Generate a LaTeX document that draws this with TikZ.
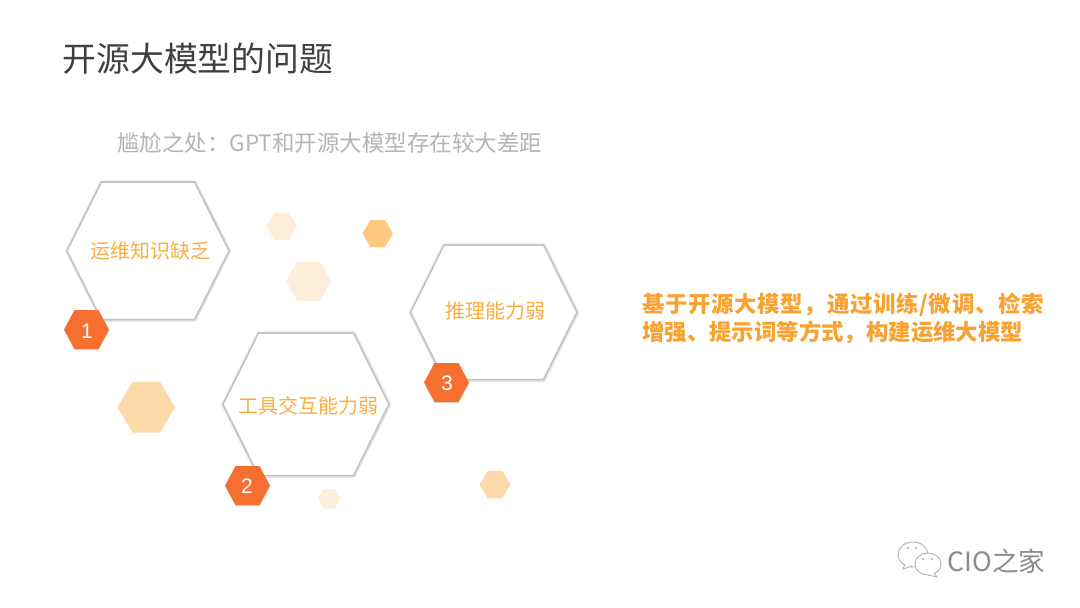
\documentclass[tikz,border=0pt]{standalone}
\usepackage{fontspec}
\setmainfont{Noto Sans CJK SC}
\newfontfamily\digitfont{Liberation Sans}
\definecolor{titlec}{HTML}{404040}
\definecolor{subc}{HTML}{B4B4B4}
\definecolor{labelc}{HTML}{FBAE40}
\definecolor{rightc}{HTML}{F9A22F}
\definecolor{badgec}{HTML}{F57030}
\definecolor{palec}{HTML}{FEEDD8}
\definecolor{midc}{HTML}{FCD9A8}
\definecolor{deepc}{HTML}{FEC97F}
\definecolor{markc}{HTML}{8C8C8C}
\tikzset{
  titletext/.style={anchor=west,inner sep=0pt,text=titlec,font=\fontsize{33.8}{40}\selectfont},
  subtext/.style={anchor=west,inner sep=0pt,text=subc,font=\fontsize{22.5}{28}\selectfont},
  hexlabel/.style={inner sep=0pt,text=labelc,font=\fontsize{20}{24}\selectfont},
  righttext/.style={anchor=north west,inner sep=0pt,align=left,text=rightc,font=\fontsize{22.4}{28}\selectfont\bfseries},
  badgetext/.style={inner sep=0pt,text=white,font=\digitfont\fontsize{21}{24}\selectfont},
  marktext/.style={anchor=west,inner sep=0pt,text=markc,font=\fontsize{26.6}{30}\selectfont},
  bigedge/.style={draw=black!24,line width=1.5pt,line join=round},
  bubble/.style={draw=black!30,line width=0.9pt,fill=white,line join=round},
}
% \hexa[style]{left}{top}{right}{bottom}{inset}
\newcommand{\hexa}[6][]{\path[#1] (#2,{(#3+#5)/2}) -- (#2+#6,#3) -- (#4-#6,#3) -- (#4,{(#3+#5)/2}) -- (#4-#6,#5) -- (#2+#6,#5) -- cycle;}
\newcommand{\bighex}[5]{%
  \hexa[draw=black!5,line width=4.4pt,line join=round,shift={(0.3,0.3)}]{#1}{#2}{#3}{#4}{#5}
  \hexa[draw=black!12,line width=3pt,line join=round,shift={(0.3,0.3)}]{#1}{#2}{#3}{#4}{#5}
  \hexa[bigedge,fill=white]{#1}{#2}{#3}{#4}{#5}}
\begin{document}
\begin{tikzpicture}[x=1pt,y=-1pt]
\useasboundingbox (0,0) rectangle (1080,608);
\fill[white] (0,0) rectangle (1080,608);
% pale decorative hexagons
\hexa[fill=palec]{266.5}{212.5}{297}{240}{8}
\hexa[fill=palec]{286}{262}{331}{300.5}{11}
\hexa[fill=deepc]{362.5}{220}{393}{247}{8}
\hexa[fill=midc]{117.5}{382}{175}{432.5}{15}
\hexa[fill=palec]{318}{489}{340.5}{508.5}{6}
\hexa[fill=midc]{479.5}{471}{510.5}{498}{8}
% large hexagons
\bighex{67}{182}{229}{319.5}{34.5}
\bighex{223}{333}{389}{475.5}{35.5}
\bighex{410.5}{245}{577}{379.5}{33.5}
% badges
\foreach \l/\t in {64/310,225/466,424/363}{
  \hexa[fill=black!12,shift={(0.3,1.3)}]{\l}{\t}{\l+45}{\t+39}{10.5}
  \hexa[fill=badgec]{\l}{\t}{\l+45}{\t+39}{10.5}
}
\node[badgetext] (n1) at (87,331) {1};
\node[badgetext] (n2) at (247,486) {2};
\node[badgetext] (n3) at (447,383) {3};
% text
\node[titletext] (title) at (62.5,59) {开源大模型的问题};
\node[subtext] (sub) at (117,142.5) {尴尬之处：GPT和开源大模型存在较大差距};
\node[hexlabel] (l1) at (150,251) {运维知识缺乏};
\node[hexlabel] (l2) at (308,406) {工具交互能力弱};
\node[hexlabel] (l3) at (495,311) {推理能力弱};
\node[righttext] (r) at (642,292.5) {{\addfontfeature{LetterSpace=3.2}基于开源大模型，通过训练/微调、检索}\\增强、提示词等方式，构建运维大模型};
% watermark
\draw[bubble] (913,554.5) ellipse (15 and 12.5);
\draw[bubble] (905,564) -- (903,569) -- (912,566);
\draw[bubble] (928,564) ellipse (13 and 11);
\draw[bubble] (934,573) -- (937,577) -- (928,575);
\fill[black!32] (908,548) circle (1.1) (916,548) circle (1.1) (923,559) circle (1.1) (932,559) circle (1.1);
\node[marktext] (mark) at (947.5,561) {CIO之家};
\end{tikzpicture}
\end{document}
